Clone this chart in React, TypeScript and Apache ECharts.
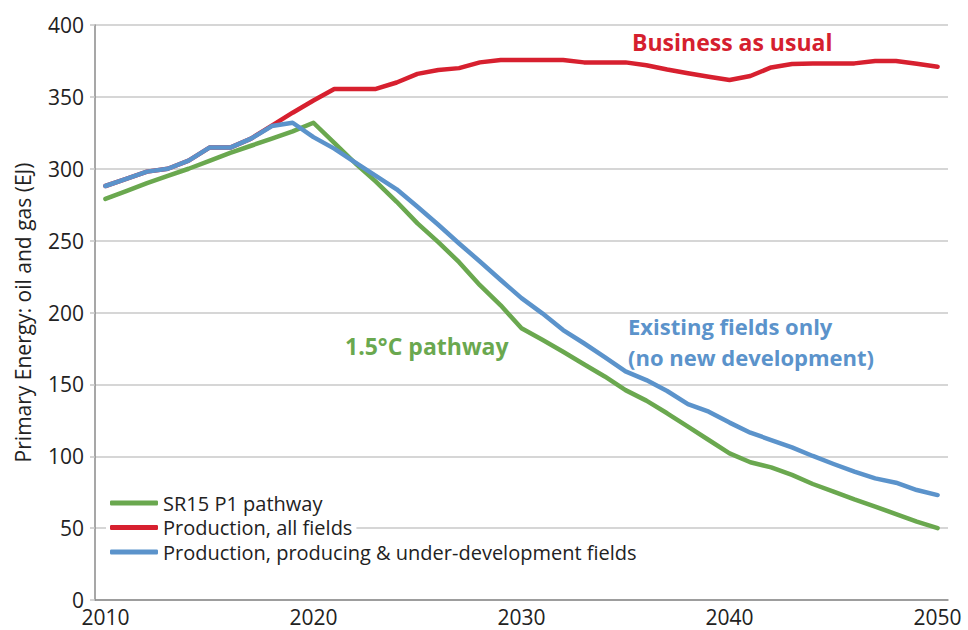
import React, { useEffect, useRef } from "react";
import * as echarts from "echarts";

const years: string[] = [];
for (let y = 2010; y <= 2050; y++) years.push(String(y));

const seriesNames = [
  "SR15 P1 pathway",
  "Production, all fields",
  "Production, producing & under-development fields",
];

const sr15P1: number[] = [
  279, 284.5, 290, 295, 300, 305.5, 311, 316, 321, 326, 332,
  318, 304, 291, 277, 262, 249, 235, 219, 205, 189,
  181, 172.7, 164, 155.5, 146, 138.7, 129.9, 120.6, 111.3, 102,
  95.8, 92.3, 87, 80.7, 75.4, 70, 65, 59.8, 54.5, 50,
];

const allFields: number[] = [
  288, 293, 298, 300, 305.6, 314.7, 314.7, 321, 330, 339, 347.5,
  355.5, 355.5, 355.5, 360, 366, 368.7, 370, 374, 375.6, 375.6,
  375.6, 375.6, 374, 374, 374, 372, 369, 366.4, 364, 361.7,
  364.5, 370.5, 372.9, 373.3, 373.3, 373.3, 375, 375, 373, 371,
];

const existingFields: number[] = [
  288, 293, 298, 300, 305.6, 314.7, 314.7, 321, 329.7, 332, 322,
  314, 304.5, 295, 285.7, 273.6, 261, 248, 235.5, 222.6, 210,
  199.4, 187.8, 178.6, 169, 159, 153, 145.4, 136.3, 131, 123.4,
  116.4, 111.3, 106.2, 100.2, 94.6, 89.3, 84.6, 81.6, 76.5, 73,
];

const yTicks = { min: 0, max: 400, interval: 50 };

const colors = ["#6aa84f", "#d7202f", "#5b93cb"];
const FONT = "'Open Sans', 'Noto Sans', sans-serif";

export default function App() {
  const ref = useRef<HTMLDivElement>(null);
  useEffect(() => {
    if (!ref.current) return;
    const chart = echarts.init(ref.current, undefined, { renderer: "svg" });
    const legendRows = [503, 527.5, 552];
    chart.setOption({
      animation: false,
      textStyle: { fontFamily: FONT },
      color: colors,
      grid: { left: 95, right: 20, top: 25, bottom: 30, containLabel: false },
      legend: seriesNames.map((n, i) => ({
        data: [n],
        left: 106,
        top: legendRows[i] - 10,
        orient: "vertical",
        icon: "roundRect",
        itemWidth: 48,
        itemHeight: 5,
        padding: [0, 4, 0, 4],
        backgroundColor: "#ffffff",
        selectedMode: false,
        textStyle: { fontFamily: FONT, fontSize: 20, color: "#222", lineHeight: 20 },
      })),
      xAxis: {
        type: "category",
        data: years,
        boundaryGap: true,
        axisLine: { lineStyle: { color: "#8a8a8a", width: 1.5 } },
        axisTick: { show: false },
        axisLabel: {
          interval: 9,
          fontSize: 21,
          color: "#222",
          margin: 6,
          fontFamily: FONT,
        },
        splitLine: { show: false },
      },
      yAxis: {
        type: "value",
        min: yTicks.min,
        max: yTicks.max,
        interval: yTicks.interval,
        name: "Primary Energy: oil and gas (EJ)",
        nameLocation: "middle",
        nameGap: 62,
        nameRotate: 90,
        nameTextStyle: { fontSize: 21, color: "#222", fontFamily: FONT },
        axisLine: { show: true, lineStyle: { color: "#8a8a8a", width: 1.5 } },
        axisTick: { show: true, length: 5, lineStyle: { color: "#c6c6c6", width: 1.5 } },
        axisLabel: { fontSize: 21, color: "#222", margin: 11, fontFamily: FONT },
        splitLine: { show: true, lineStyle: { color: "#c9c9c9", width: 1.5 } },
      },
      series: [sr15P1, allFields, existingFields].map((d, i) => ({
        name: seriesNames[i],
        type: "line",
        data: d,
        showSymbol: false,
        symbol: "none",
        lineStyle: { width: 4.5, color: colors[i], cap: "round", join: "round" },
        itemStyle: { color: colors[i] },
        z: 2 + i,
      })),
      graphic: [
        {
          type: "text",
          left: 632,
          top: 30,
          style: {
            text: "Business as usual",
            fill: "#d5202e",
            font: `bold 23px ${FONT}`,
          },
        },
        {
          type: "text",
          left: 345,
          top: 334,
          style: {
            text: "1.5°C pathway",
            fill: "#6aa84f",
            font: `bold 23px ${FONT}`,
          },
        },
        {
          type: "text",
          left: 628,
          top: 315,
          style: {
            text: "Existing fields only",
            fill: "#5b93cb",
            font: `bold 22px ${FONT}`,
          },
        },
        {
          type: "text",
          left: 628,
          top: 346,
          style: {
            text: "(no new development)",
            fill: "#5b93cb",
            font: `bold 22px ${FONT}`,
          },
        },
      ],
    });
    return () => chart.dispose();
  }, []);
  return (
    <div
      ref={ref}
      style={{ position: "absolute", left: 0, top: 0, width: 968, height: 630 }}
    />
  );
}
